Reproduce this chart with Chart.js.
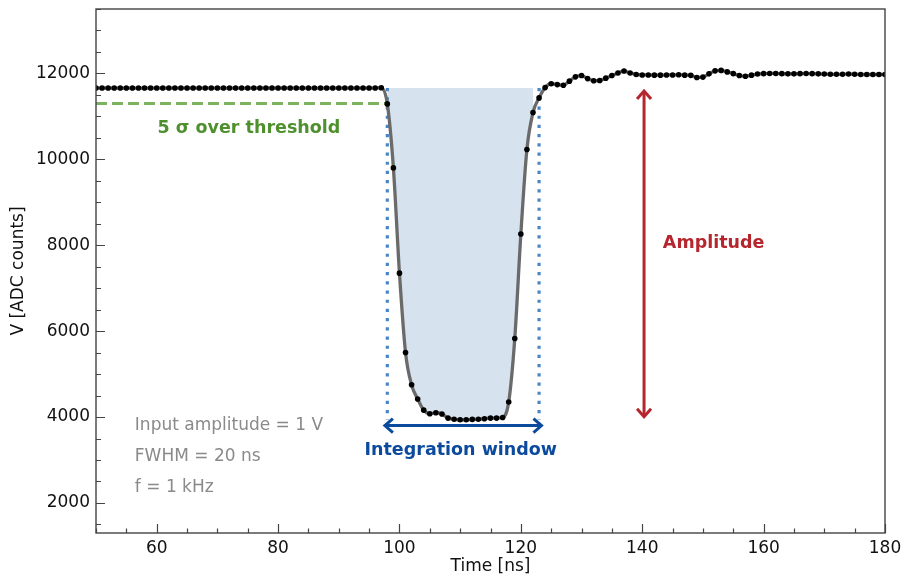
<!DOCTYPE html>
<html>
<head>
<meta charset="utf-8">
<script src="https://cdn.jsdelivr.net/npm/chart.js@4.4.1/dist/chart.umd.min.js"></script>
<style>
  html, body { margin: 0; background: #fff; }
  #wrap { width: 905px; height: 579px; position: relative; }
</style>
</head>
<body>
<div id="wrap"><canvas id="pulse"></canvas></div>
<script>
// sample times [ns]
const timeNs = [
   50, 51, 52, 53, 54, 55, 56, 57, 58, 59,
   60, 61, 62, 63, 64, 65, 66, 67, 68, 69,
   70, 71, 72, 73, 74, 75, 76, 77, 78, 79,
   80, 81, 82, 83, 84, 85, 86, 87, 88, 89,
   90, 91, 92, 93, 94, 95, 96, 97, 98, 99,
  100,101,102,103,104,105,106,107,108,109,
  110,111,112,113,114,115,116,117,118,119,
  120,121,122,123,124,125,126,127,128,129,
  130,131,132,133,134,135,136,137,138,139,
  140,141,142,143,144,145,146,147,148,149,
  150,151,152,153,154,155,156,157,158,159,
  160,161,162,163,164,165,166,167,168,169,
  170,171,172,173,174,175,176,177,178,179,
  180
];
// ADC counts
const adcCounts = [
  11660,11660,11660,11660,11660,11660,11660,11660,11660,11660,
  11660,11660,11660,11660,11660,11660,11660,11660,11660,11660,
  11660,11660,11660,11660,11660,11660,11660,11660,11660,11660,
  11660,11660,11660,11660,11660,11660,11660,11660,11660,11660,
  11660,11660,11660,11660,11660,11660,11660,11665,11290, 9800,
   7350, 5500, 4750, 4420, 4160, 4075, 4100, 4070, 3975, 3950,
   3935, 3935, 3945, 3950, 3960, 3975, 3975, 3990, 4350, 5830,
   8260,10230,11090,11430,11670,11760,11740,11725,11820,11920,
  11950,11880,11830,11835,11890,11950,12010,12055,12010,11975,
  11965,11965,11960,11960,11965,11965,11970,11960,11955,11905,
  11915,11990,12060,12070,12035,11995,11950,11935,11960,11985,
  11995,12000,12000,11995,11990,11990,11995,12000,11995,11990,
  11985,11980,11980,11980,11985,11980,11975,11975,11975,11975,
  11975
];

const xTickValues = [60, 80, 100, 120, 140, 160, 180];
const yTickValues = [2000, 4000, 6000, 8000, 10000, 12000];

const baseline = 11660;     // pedestal level
const threshold = 11300;    // 5 sigma threshold
const pulseMin = 3935;
const windowStart = 98;
const windowEnd = 123;
const fillEnd = 122;
const amplitudeAt = 140.3;
const windowArrowY = 3800;
const infoLines = ["Input amplitude = 1 V", "FWHM = 20 ns", "f = 1 kHz"];

const FONT = '"DejaVu Sans", "Liberation Sans", sans-serif';

const points = timeNs.map((t, i) => ({ x: t, y: adcCounts[i] }));
const windowPoints = points.filter(p => p.x >= windowStart && p.x <= fillEnd);

function arrowHead(ctx, tipX, tipY, dirX, dirY, len, half){
  // chevron, dir points from tip back into the shaft
  const nx = -dirY, ny = dirX;
  ctx.beginPath();
  ctx.moveTo(tipX + dirX*len + nx*half, tipY + dirY*len + ny*half);
  ctx.lineTo(tipX, tipY);
  ctx.lineTo(tipX + dirX*len - nx*half, tipY + dirY*len - ny*half);
  ctx.stroke();
}

function doubleArrow(ctx, x1, y1, x2, y2, color){
  const d = Math.hypot(x2 - x1, y2 - y1);
  const ux = (x2 - x1) / d, uy = (y2 - y1) / d;
  ctx.save();
  ctx.strokeStyle = color;
  ctx.lineWidth = 3;
  ctx.lineCap = "butt";
  ctx.lineJoin = "miter";
  ctx.beginPath();
  ctx.moveTo(x1 + ux, y1 + uy);
  ctx.lineTo(x2 - ux, y2 - uy);
  ctx.stroke();
  arrowHead(ctx, x1, y1, ux, uy, 8, 7);
  arrowHead(ctx, x2, y2, -ux, -uy, 8, 7);
  ctx.restore();
}

const decor = {
  id: "decor",
  afterDatasetDraw(chart, args){
    if(args.index !== 1) return;
    const ctx = chart.ctx, xs = chart.scales.x, ys = chart.scales.y;
    ctx.save();
    // threshold line
    ctx.strokeStyle = "#7bb35f";
    ctx.lineWidth = 3.2;
    ctx.setLineDash([11, 5]);
    ctx.beginPath();
    ctx.moveTo(xs.getPixelForValue(xs.min), ys.getPixelForValue(threshold));
    ctx.lineTo(xs.getPixelForValue(windowStart), ys.getPixelForValue(threshold));
    ctx.stroke();
    // integration window bounds
    ctx.strokeStyle = "#4a85c5";
    ctx.lineWidth = 3.2;
    ctx.setLineDash([3.2, 6]);
    for(const t of [windowStart, windowEnd]){
      ctx.beginPath();
      ctx.moveTo(xs.getPixelForValue(t), ys.getPixelForValue(baseline));
      ctx.lineTo(xs.getPixelForValue(t), ys.getPixelForValue(pulseMin));
      ctx.stroke();
    }
    ctx.restore();
  },
  afterDatasetsDraw(chart){
    const ctx = chart.ctx, xs = chart.scales.x, ys = chart.scales.y;
    const px = v => xs.getPixelForValue(v), py = v => ys.getPixelForValue(v);

    doubleArrow(ctx, px(windowStart - 0.4), py(windowArrowY), px(windowEnd + 0.4), py(windowArrowY), "#0b4a9c");
    doubleArrow(ctx, px(amplitudeAt), py(baseline) + 3, px(amplitudeAt), py(pulseMin) - 3, "#b5262f");

    ctx.save();
    ctx.textBaseline = "middle";
    ctx.font = "bold 17.5px " + FONT;
    ctx.fillStyle = "#4e8f2e";
    ctx.textAlign = "center";
    ctx.fillText("5 σ over threshold", px(75.2), py(10720));
    ctx.fillStyle = "#0b4a9c";
    ctx.fillText("Integration window", px(110.1), py(3215));
    ctx.fillStyle = "#b5262f";
    ctx.textAlign = "left";
    ctx.fillText("Amplitude", px(143.4), py(8030));

    ctx.font = "17px " + FONT;
    ctx.fillStyle = "#8a8a8a";
    const infoY = [3795, 3075, 2355];
    infoLines.forEach((s, i) => ctx.fillText(s, px(56.4), py(infoY[i])));
    ctx.restore();
  },
  afterDraw(chart){
    const ctx = chart.ctx, xs = chart.scales.x, ys = chart.scales.y;
    const a = chart.chartArea;
    ctx.save();
    ctx.strokeStyle = "#444";
    ctx.lineWidth = 1.4;
    ctx.strokeRect(a.left, a.top, a.right - a.left, a.bottom - a.top);
    ctx.lineWidth = 1.2;
    ctx.beginPath();
    // inward ticks, minor every 5 ns / 500 counts
    for(let t = Math.ceil(xs.min / 5) * 5; t <= xs.max; t += 5){
      const x = Math.round(xs.getPixelForValue(t)) + 0.5;
      const len = t % 20 === 0 ? 9 : 4.5;
      ctx.moveTo(x, a.bottom);
      ctx.lineTo(x, a.bottom - len);
    }
    for(let v = Math.ceil(ys.min / 500) * 500; v <= ys.max; v += 500){
      const y = Math.round(ys.getPixelForValue(v)) + 0.5;
      const len = v % 2000 === 0 ? 9 : 5;
      ctx.moveTo(a.left, y);
      ctx.lineTo(a.left + len, y);
    }
    ctx.stroke();
    ctx.restore();
  }
};

new Chart(document.getElementById("pulse"), {
  type: "line",
  data: {
    datasets: [
      {
        data: points,
        borderColor: "#6a6a6a",
        borderWidth: 3.3,
        cubicInterpolationMode: "monotone",
        pointRadius: 2.8,
        pointBackgroundColor: "#000",
        pointBorderWidth: 0,
        fill: false
      },
      {
        data: windowPoints,
        borderWidth: 0,
        borderColor: "rgba(0,0,0,0)",
        pointRadius: 0,
        cubicInterpolationMode: "monotone",
        backgroundColor: "rgba(214,226,238,1)",
        fill: { value: baseline }
      }
    ]
  },
  options: {
    responsive: true,
    maintainAspectRatio: false,
    animation: false,
    layout: { padding: { top: 9, right: 20, left: 0, bottom: 0 } },
    plugins: { legend: { display: false }, tooltip: { enabled: false } },
    scales: {
      x: {
        type: "linear",
        min: 50,
        max: 180,
        grid: { display: false, drawTicks: false },
        border: { display: false },
        ticks: { padding: 5, color: "#111", font: { family: FONT, size: 17 }, maxRotation: 0, autoSkip: false, callback: v => String(v) },
        afterBuildTicks: s => { s.ticks = xTickValues.map(v => ({ value: v })); },
        title: { display: true, text: "Time [ns]", color: "#111", font: { family: FONT, size: 17 }, padding: { top: 0, bottom: 2 } },
        afterFit: s => { s.height = 46; s.paddingLeft = 0; s.paddingRight = 0; }
      },
      y: {
        type: "linear",
        min: 1300,
        max: 13500,
        grid: { display: false, drawTicks: false },
        border: { display: false },
        ticks: { padding: 6, color: "#111", font: { family: FONT, size: 17 }, autoSkip: false, callback: v => String(v) },
        afterBuildTicks: s => { s.ticks = yTickValues.map(v => ({ value: v })); },
        title: { display: true, text: "V [ADC counts]", color: "#111", font: { family: FONT, size: 17 }, padding: { top: 8, bottom: 0 } },
        afterFit: s => { s.width = 96; s.paddingTop = 0; s.paddingBottom = 0; }
      }
    }
  },
  plugins: [decor]
});
</script>
</body>
</html>
